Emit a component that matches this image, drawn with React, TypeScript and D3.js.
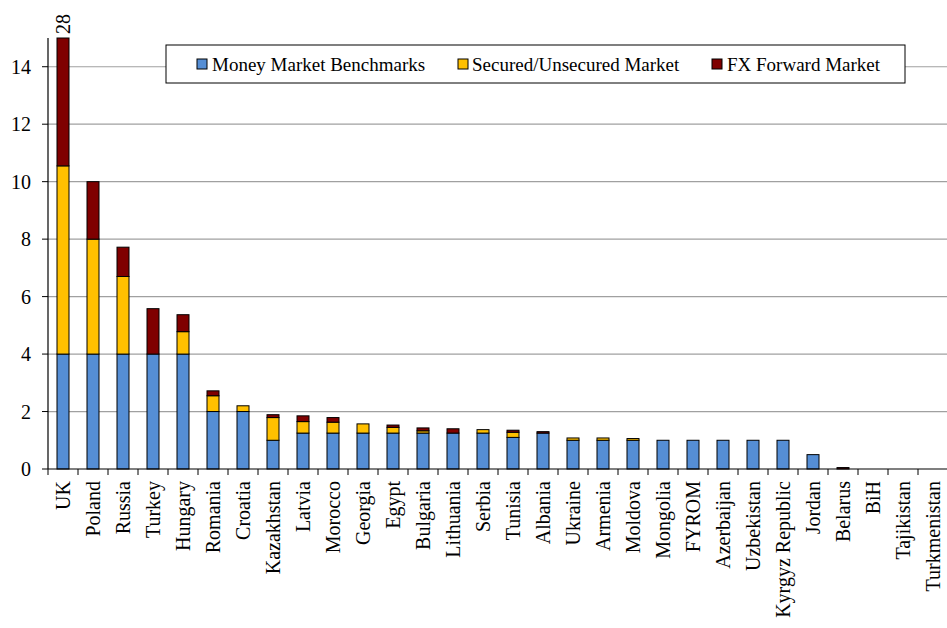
import React from "react";
import * as d3 from "d3";

const categories = ["UK","Poland","Russia","Turkey","Hungary","Romania","Croatia","Kazakhstan","Latvia","Morocco","Georgia","Egypt","Bulgaria","Lithuania","Serbia","Tunisia","Albania","Ukraine","Armenia","Moldova","Mongolia","FYROM","Azerbaijan","Uzbekistan","Kyrgyz Republic","Jordan","Belarus","BiH","Tajikistan","Turkmenistan"];
const moneyMarket = [4,4,4,4,4,2,2,1,1.25,1.25,1.25,1.25,1.25,1.25,1.25,1.1,1.25,1,1,1,1,1,1,1,1,0.5,0,0,0,0];
const securedUnsecured = [6.55,4,2.7,0,0.78,0.55,0.2,0.79,0.4,0.38,0.32,0.2,0.08,0,0.12,0.18,0,0.08,0.08,0.06,0,0,0,0,0,0,0,0,0,0];
const fxForward = [17.45,2,1.02,1.58,0.59,0.17,0,0.1,0.2,0.16,0,0.08,0.1,0.15,0,0.07,0.05,0,0,0,0,0,0,0,0,0,0.05,0,0,0];
const seriesNames = ["Money Market Benchmarks","Secured/Unsecured Market","FX Forward Market"];
const seriesColors = ["#558ED5","#FFC000","#7F0000"];
const yTicks = [0,2,4,6,8,10,12,14];
const yMax = 15;

export default function App() {
  const W = 947, H = 628;
  const left = 48, right = 948, top = 38, bottom = 469;
  const font = "Liberation Serif";

  const rows = categories.map((c, i) => ({ c, s0: moneyMarket[i], s1: securedUnsecured[i], s2: fxForward[i] }));
  const stack = d3.stack<any>().keys(["s0","s1","s2"])(rows);

  const x = d3.scaleBand<string>().domain(categories).range([left, right]).paddingInner(0.6).paddingOuter(0.3);
  const y = d3.scaleLinear().domain([0, yMax]).range([bottom, top]).clamp(true);
  const step = x.step();

  const legendItems = [
    { x: 197, tx: 212 },
    { x: 458, tx: 472 },
    { x: 712, tx: 727 },
  ];
  const ts = { fontFamily: font } as React.CSSProperties;

  return (
    <svg width={W} height={H} style={{ position: "absolute", left: 0, top: 0, background: "#fff", fontFamily: font }}>
      {yTicks.filter(t => t > 0).map(t => (
        <line key={t} x1={left} x2={W} y1={y(t)} y2={y(t)} stroke="#A0A0A0" strokeWidth={1.2} />
      ))}
      {stack.map((layer, li) => (
        <g key={li}>
          {layer.map((d, i) => {
            const v = d[1] - d[0];
            if (v <= 0) return null;
            const y0 = y(d[0]), y1 = y(d[1]);
            return (
              <rect key={i} x={x(categories[i])!} width={x.bandwidth()} y={y1} height={Math.max(y0 - y1, 0.5)}
                fill={seriesColors[li]} stroke="#000" strokeWidth={1} />
            );
          })}
        </g>
      ))}
      {rows.map((r, i) => {
        const total = r.s0 + r.s1 + r.s2;
        if (total <= yMax) return null;
        const cx = x(r.c)! + x.bandwidth() / 2;
        return (
          <text key={i} style={ts} transform={`translate(${cx},${top - 4}) rotate(-90)`} fontSize={20} dominantBaseline="central" textAnchor="start">
            {d3.format("d")(total)}
          </text>
        );
      })}
      <line x1={left} x2={left} y1={top} y2={bottom} stroke="#000" strokeWidth={1.2} />
      <line x1={left} x2={W} y1={bottom} y2={bottom} stroke="#000" strokeWidth={1.2} />
      {yTicks.map(t => (
        <g key={t}>
          <line x1={left - 6} x2={left} y1={y(t)} y2={y(t)} stroke="#000" />
          <text style={ts} x={31} y={y(t)} fontSize={20} textAnchor="end" dominantBaseline="central">{t}</text>
        </g>
      ))}
      {d3.range(categories.length + 1).map(i => (
        <line key={i} x1={left + i * step} x2={left + i * step} y1={bottom} y2={bottom + 6} stroke="#000" />
      ))}
      {categories.map(c => {
        const cx = x(c)! + x.bandwidth() / 2;
        return (
          <text key={c} style={ts} transform={`translate(${cx},${bottom + 12}) rotate(-90)`} fontSize={20} textAnchor="end" dominantBaseline="central">{c}</text>
        );
      })}
      <rect x={166} y={45} width={739} height={38} fill="#fff" stroke="#000" strokeWidth={1} />
      {seriesNames.map((n, i) => (
        <g key={n}>
          <rect x={legendItems[i].x} y={59} width={10} height={10} fill={seriesColors[i]} stroke="#000" strokeWidth={1} />
          <text style={ts} x={legendItems[i].tx} y={64.5} fontSize={19} dominantBaseline="central">{n}</text>
        </g>
      ))}
    </svg>
  );
}
